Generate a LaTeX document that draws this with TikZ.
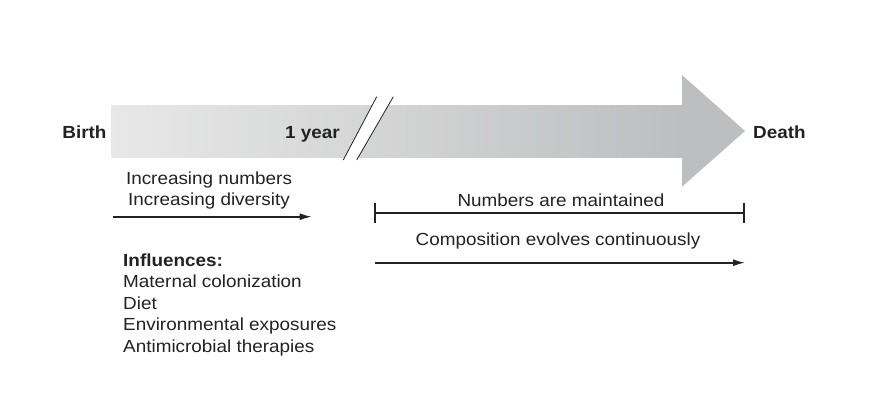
\documentclass[tikz,border=0pt]{standalone}
\usepackage{fontspec}
\setmainfont{Liberation Sans}[FakeStretch=1.08]
\usetikzlibrary{arrows.meta}
\definecolor{barlight}{HTML}{E8E8E8}
\definecolor{bardark}{HTML}{BDBEBF}
\definecolor{inkgray}{HTML}{222222}

\begin{document}
\begin{tikzpicture}[x=1pt, y=-1pt, font=\fontsize{17.5}{21.5}\selectfont, text=inkgray,
    lbl/.style={inner sep=0pt, anchor=base},
    spanarrow/.style={draw=inkgray, line width=1.6pt, -{Latex[length=12pt,width=7pt]}},
    spanbar/.style={draw=inkgray, line width=2pt, {Bar[width=20pt]}-{Bar[width=20pt]}}]
        \useasboundingbox (0,0) rectangle (870,410);

        % big timeline arrow
        \shade[left color=barlight, right color=bardark] (111.7,105) rectangle (683,157.3);
        \fill[bardark] (682,75) -- (745,131) -- (682,186.7) -- cycle;
        % break mark
        \fill[white] (376.7,96.7) -- (393.3,96.7) -- (356.7,160) -- (343.3,160) -- cycle;
        \draw[inkgray, line width=0.8pt] (376.7,96.7) -- (343.3,160);
        \draw[inkgray, line width=0.8pt] (393.3,96.7) -- (356.7,160);

        \node[lbl, anchor=base east] (birth) at (106.7,138.3) {\bfseries Birth};
        \node[lbl, anchor=base east] (year) at (340,138.3) {\bfseries 1 year};
        \node[lbl, anchor=base west] (death) at (753,138.3) {\bfseries Death};

        % first year (base = last line)
        \node[lbl, align=center] (grow) at (209,205.5) {Increasing numbers\\Increasing diversity};
        \coordinate (growL) at (112.7,216.7);
        \coordinate (growR) at (311.7,216.7);
        \draw[spanarrow] (growL) -- (growR);

        \node[lbl, anchor=base west, align=left] (infl) at (123,352)
            {\textbf{Influences:}\\Maternal colonization\\Diet\\Environmental exposures\\Antimicrobial therapies};

        % adult life
        \node[lbl] (keep) at (561,206.7) {Numbers are maintained};
        \coordinate (keepL) at (374.3,213.3);
        \coordinate (keepR) at (745,213.3);
        \draw[spanbar] (keepL) -- (keepR);

        \node[lbl] (comp) at (558,245) {Composition evolves continuously};
        \coordinate (compL) at (375,262.7);
        \coordinate (compR) at (745,262.7);
        \draw[spanarrow] (compL) -- (compR);
    \end{tikzpicture}
\end{document}
